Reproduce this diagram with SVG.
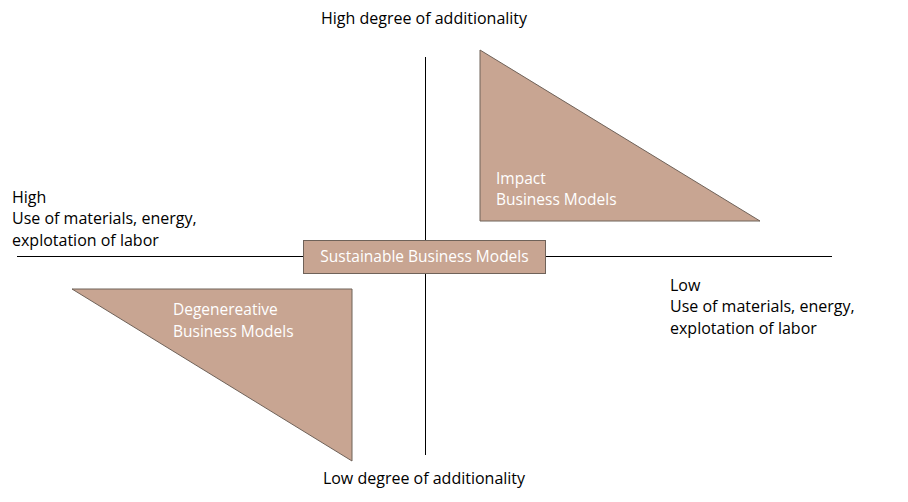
<svg xmlns="http://www.w3.org/2000/svg" width="908" height="502" viewBox="0 0 908 502">
<style>
.t{font-family:"Open Sans","Liberation Sans",Arial,sans-serif;font-size:16px;fill:#000}
.w{font-family:"Open Sans","Liberation Sans",Arial,sans-serif;font-size:15.5px;font-weight:500;fill:#fff}
.shape{fill:#c8a592;stroke:#6f6259;stroke-width:1}
.axis{stroke:#000;stroke-width:1;fill:none}
</style>
<rect width="908" height="502" fill="#fff"/>
<g id="connectors">
<line class="axis" x1="425.5" y1="57" x2="425.5" y2="455"/>
<line class="axis" x1="17" y1="256.5" x2="832" y2="256.5"/>
</g>
<g id="impact">
<polygon class="shape" points="480,50 480,221 760,221"/>
<text class="w" x="496" y="184">Impact</text>
<text class="w" x="496" y="205">Business Models</text>
</g>
<g id="degenerative">
<polygon class="shape" points="72,289 352,289 352,461"/>
<text class="w" x="173" y="315">Degenereative</text>
<text class="w" x="173" y="337">Business Models</text>
</g>
<g id="sustainable">
<rect class="shape" x="303.5" y="240.5" width="242" height="33"/>
<text class="w" x="424.5" y="262" text-anchor="middle">Sustainable Business Models</text>
</g>
<g id="labels">
<text class="t" x="424" y="24" text-anchor="middle">High degree of additionality</text>
<text class="t" x="424" y="484" text-anchor="middle">Low degree of additionality</text>
<text class="t" x="12" y="203">High</text>
<text class="t" x="12" y="224">Use of materials, energy,</text>
<text class="t" x="12" y="246">explotation of labor</text>
<text class="t" x="670" y="291">Low</text>
<text class="t" x="670" y="312">Use of materials, energy,</text>
<text class="t" x="670" y="334">explotation of labor</text>
</g>
</svg>
